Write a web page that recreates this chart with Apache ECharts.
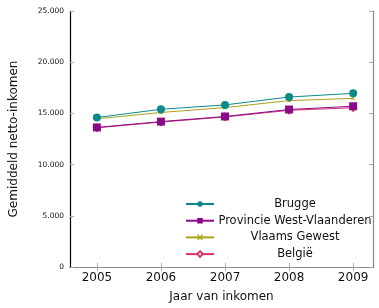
<!DOCTYPE html>
<html>
<head>
<meta charset="utf-8">
<script src="https://cdn.jsdelivr.net/npm/echarts@6/dist/echarts.min.js"></script>
<style>html,body{margin:0;padding:0;background:#fff;}#c{width:379px;height:308px;}</style>
</head>
<body>
<div id="c"></div>
<script>
const years = [2005, 2006, 2007, 2008, 2009];
const brugge = [14600, 15400, 15830, 16600, 16960];
const provincie = [13630, 14200, 14700, 15380, 15700];
const vlaams = [14470, 15090, 15570, 16250, 16470];
const belgie = [13600, 14150, 14650, 15300, 15550];
const yTicks = [0, 5000, 10000, 15000, 20000, 25000];
const names = ['Brugge', 'Provincie West-Vlaanderen', 'Vlaams Gewest', 'België'];
const colors = ['#0a8a8a', '#8a0a8a', '#aaa21a', '#d6336c'];

const font = 'DejaVu Sans';
const crossPath = 'path://M0,0 L10,10 M10,0 L0,10 M0,0 L1.5,0 L10,8.5 L10,10 L8.5,10 L0,1.5 Z M8.5,0 L10,0 L10,1.5 L1.5,10 L0,10 L0,8.5 Z';

function pairs(arr) { return years.map((y, i) => [y, arr[i]]); }
function fmt(v) { return String(v).replace(/\B(?=(\d{3})+(?!\d))/g, '.'); }

const seriesData = [brugge, provincie, vlaams, belgie];
const symbols = ['circle', 'rect', crossPath, 'emptyDiamond'];
const sizes = [8, 8, 4, 6];

const chart = echarts.init(document.getElementById('c'), null, {renderer: 'canvas'});
chart.setOption({
  animation: false,
  textStyle: {fontFamily: font},
  grid: {left: 68, right: 6, top: 11, bottom: 39},
  legend: {
    orient: 'vertical',
    left: 180,
    top: 193,
    itemWidth: 28,
    itemHeight: 7,
    itemGap: 4.7,
    data: names,
    formatter: n => '{a|' + n + '}',
    textStyle: {
      fontFamily: font, fontSize: 11.5, color: '#111',
      rich: {a: {width: 152, height: 13, align: 'center', fontFamily: font, fontSize: 11.5, color: '#111'}}
    }
  },
  xAxis: [{
    type: 'value', min: 2004.58, max: 2009.31,
    name: 'Jaar van inkomen', nameLocation: 'middle', nameGap: 24,
    nameTextStyle: {fontFamily: font, fontSize: 12, color: '#111'},
    axisLine: {lineStyle: {color: '#000', width: 1.2}},
    axisTick: {inside: true, length: 4, customValues: years, lineStyle: {color: '#aaa'}},
    axisLabel: {customValues: years, fontFamily: font, fontSize: 12, color: '#111', margin: 5, formatter: v => String(v)},
    splitLine: {show: false}
  }, {
    type: 'value', min: 2004.58, max: 2009.31, position: 'top',
    axisLine: {show: true, lineStyle: {color: '#888', width: 1.2}},
    axisTick: {inside: true, length: 4, customValues: years, lineStyle: {color: '#aaa'}},
    axisLabel: {show: false},
    splitLine: {show: false}
  }],
  yAxis: [{
    type: 'value', min: 0, max: 25000, interval: 5000,
    name: 'Gemiddeld netto-inkomen', nameLocation: 'middle', nameGap: 50,
    nameTextStyle: {fontFamily: font, fontSize: 12, color: '#111'},
    axisLine: {show: true, lineStyle: {color: '#000', width: 1.2}},
    axisTick: {show: true, inside: true, length: 4, lineStyle: {color: '#aaa'}},
    axisLabel: {fontFamily: font, fontSize: 7.5, color: '#111', margin: 6, formatter: v => fmt(v)},
    splitLine: {show: false}
  }, {
    type: 'value', min: 0, max: 25000, interval: 5000, position: 'right',
    axisLine: {show: true, lineStyle: {color: '#888', width: 1.2}},
    axisTick: {show: true, inside: true, length: 4, lineStyle: {color: '#aaa'}},
    axisLabel: {show: false},
    splitLine: {show: false}
  }],
  series: names.map((n, i) => ({
    name: n, type: 'line', data: pairs(seriesData[i]),
    symbol: symbols[i], symbolSize: sizes[i],
    showAllSymbol: true,
    itemStyle: {color: colors[i], borderColor: colors[i], borderWidth: i === 3 ? 1.2 : 0},
    lineStyle: {color: colors[i], width: 1},
    z: 10 - i
  }))
});
</script>
</body>
</html>
